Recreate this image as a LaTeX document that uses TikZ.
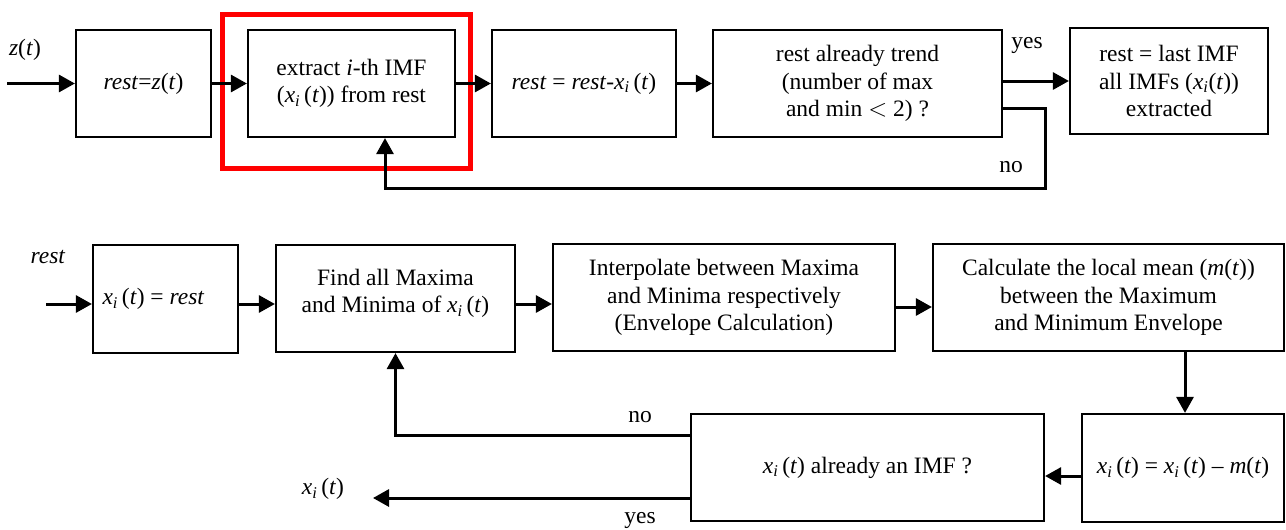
\documentclass[tikz,border=0pt]{standalone}
\usepackage{fontspec}
\setmainfont{Liberation Serif}
\usetikzlibrary{arrows.meta}
\newcommand\myxit{\textit{x}\textsubscript{\textit{i}}\,(\textit{t})}
\newcommand\myxitt{\textit{x}\textsubscript{\textit{i}}(\textit{t})}
\begin{document}
\begin{tikzpicture}[x=1pt,y=-1pt,
  every node/.style={font=\fontsize{23.5}{27.5}\selectfont, inner sep=0pt},
  box/.style={draw, line width=2.2pt, align=center},
  redbox/.style={draw=red, line width=5pt},
  arr/.style={line width=3pt, -{Triangle[length=16pt,width=17pt]}}]
\useasboundingbox (0,0) rectangle (1286,530);
% top row
\node[box, minimum width=135pt, minimum height=107pt] (b1) at (143.5,83.5) {\textit{rest}=\textit{z}(\textit{t})};
\node[box, minimum width=207pt, minimum height=107pt] (b2) at (351.5,83.5) {extract \textit{i}-th IMF\\(\myxit) from rest};
\node[redbox, minimum width=248pt, minimum height=154pt] (sel) at (346,91) {};
\node[box, minimum width=184pt, minimum height=107pt] (b3) at (584,83.5) {\textit{rest} = \textit{rest}-\myxit};
\node[box, minimum width=289pt, minimum height=107pt] (b4) at (857.5,83.5) {rest already trend\\(number of max\\and min $<$ 2) ?};
\node[box, minimum width=198pt, minimum height=106pt] (b5) at (1169,81) {rest = last IMF\\all IMFs (\myxitt)\\extracted};
\node (lz) at (25,50) {\textit{z}(\textit{t})};
\node (lyes1) at (1027,45) {yes};
\node (lno1) at (1011,167) {no};
\coordinate (zin) at (7,83.5);
\coordinate (nocorner) at (1045,188);
\draw[arr] (zin) -- (zin -| b1.west);
\draw[arr] (b1) -- (b2);
\draw[arr] (b2) -- (b3);
\draw[arr] (b3) -- (b4);
\draw[arr] (b4.east |- b5.west) -- (b5.west);
\draw[arr] ([yshift=-24.5pt]b4.east) -| (nocorner) -| ([xshift=33.5pt]b2.south);
% bottom row
\node[box, minimum width=145pt, minimum height=108pt] (bA) at (165.5,299) {\hspace*{-24pt}\myxit{} = \textit{rest}};
\node[box, minimum width=239pt, minimum height=107pt] (bB) at (395.5,298.5) {Find all Maxima\\and Minima of \myxit\\[-12pt]\mbox{}};
\node[box, minimum width=342pt, minimum height=107pt] (bC) at (724,297.5) {Interpolate between Maxima\\and Minima respectively\\(Envelope Calculation)};
\node[box, minimum width=351pt, minimum height=107pt] (bD) at (1108.5,297.5) {Calculate the local mean (\textit{m}(\textit{t}))\\between the Maximum\\and Minimum Envelope};
\node[box, minimum width=202pt, minimum height=108pt] (bE) at (1183,468) {\myxit{} = \myxit{} -- \textit{m}(\textit{t})};
\node[box, minimum width=353pt, minimum height=107pt] (bF) at (867.5,467.5) {\myxit{} already an IMF ?};
\node (lrest) at (48,257) {\textit{rest}};
\node (lxout) at (323,489) {\myxit};
\node (lno2) at (640,417) {no};
\node (lyes2) at (640,520) {yes};
\coordinate (rin) at (46,304);
\coordinate (xout) at (373,498);
\draw[arr] (rin) -- (rin -| bA.west);
\draw[arr] (bA.east |- rin) -- (bB.west |- rin);
\draw[arr] (bB.east |- rin) -- (bC.west |- rin);
\draw[arr] ([yshift=-9.5pt]bC.east) -- ([yshift=-9.5pt]bC.east -| bD.west);
\draw[arr] ([xshift=2pt]bE.north |- bD.south) -- ([xshift=2pt]bE.north);
\draw[arr] ([yshift=-8pt]bE.west) -- ([yshift=-8pt]bE.west -| bF.east);
\draw[arr] ([yshift=32.5pt]bF.west) -| (bB.south);
\draw[arr] (xout -| bF.west) -- (xout);
\end{tikzpicture}
\end{document}
